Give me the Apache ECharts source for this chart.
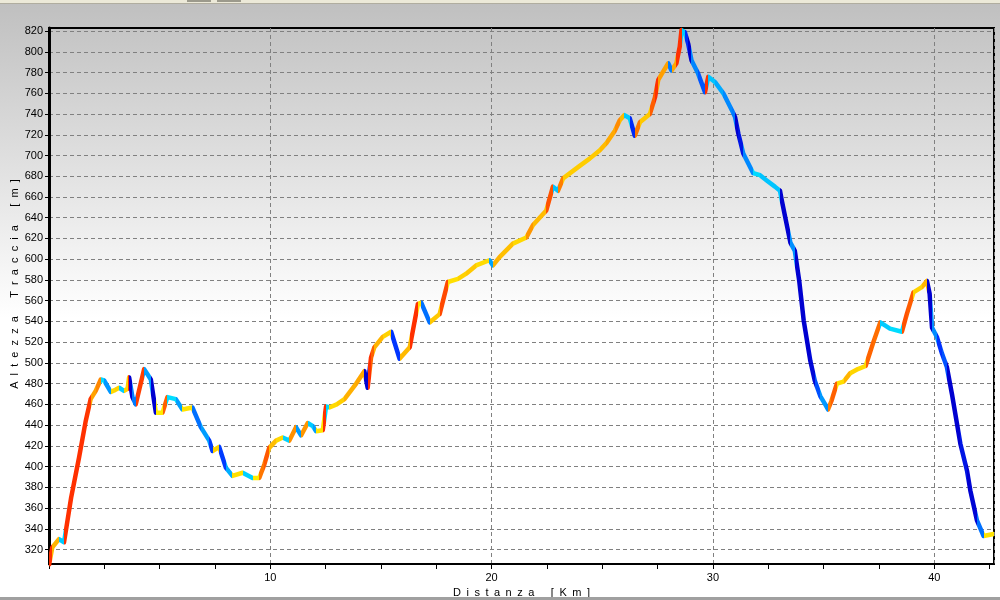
<!DOCTYPE html>
<html><head><meta charset="utf-8">
<script src="https://cdn.jsdelivr.net/npm/echarts@6/dist/echarts.min.js"></script>
<style>html,body{margin:0;padding:0;background:#fff}#c{width:1000px;height:600px}</style>
</head><body><div id="c"></div>
<script>
const distanceKm = [0.00,0.15,0.45,0.68,1.00,1.36,1.66,1.88,2.11,2.34,2.49,2.79,3.00,3.17,3.39,3.55,3.62,3.77,3.92,4.30,4.45,4.60,4.83,5.13,5.35,5.73,6.03,6.48,6.86,7.24,7.39,7.69,7.99,8.29,8.75,9.20,9.50,9.73,9.95,10.26,10.56,10.86,11.16,11.39,11.69,11.92,12.07,12.37,12.52,12.67,13.00,13.35,13.88,14.25,14.40,14.55,14.70,15.08,15.46,15.84,16.30,16.67,16.82,17.20,17.65,18.02,18.48,18.85,19.30,19.90,20.06,20.36,20.96,21.57,21.87,22.47,22.77,23.00,23.23,23.98,24.43,24.89,25.19,25.57,25.79,26.00,26.24,26.47,26.70,27.15,27.38,27.53,27.75,27.98,28.13,28.35,28.50,28.58,28.73,28.88,29.03,29.33,29.64,29.79,30.09,30.47,30.85,31.00,31.15,31.37,31.82,32.13,32.43,32.80,33.03,33.10,33.30,33.50,33.70,33.90,34.10,34.40,34.60,34.85,35.10,35.20,35.35,35.60,35.90,36.20,36.55,36.90,37.25,37.56,38.00,38.54,38.76,39.06,39.44,39.67,39.79,39.90,40.12,40.35,40.57,40.80,41.18,41.48,41.63,41.93,42.23,42.68];
const elevationM = [305,322,330,327,370,409,444,465,473,484,483,472,474,476,473,475,486,467,460,494,489,484,452,452,467,465,455,457,438,425,415,419,399,391,394,389,389,402,418,425,428,425,438,430,442,439,434,435,458,457,460,465,480,492,476,505,515,525,530,504,515,557,558,539,547,578,581,586,594,599,594,602,615,621,633,647,670,666,678,690,697,705,712,724,734,739,736,719,732,740,756,773,781,789,782,789,805,821,819,808,792,779,761,776,771,760,744,737,721,702,683,681,676,670,666,658,637,616,608,579,541,502,483,468,459,455,463,480,482,490,494,497,520,539,533,530,547,568,573,579,567,534,525,509,496,470,422,396,377,348,333,335];
const yTickValues = [320,340,360,380,400,420,440,460,480,500,520,540,560,580,600,620,640,660,680,700,720,740,760,780,800,820];
const xTickValues = [0,2.5,5,7.5,10,12.5,15,17.5,20,22.5,25,27.5,30,32.5,35,37.5,40,42.5];
const xLabelValues = [10,20,30,40];
const xAxisTitle = 'D\u2002i\u2002s\u2002t\u2002a\u2002n\u2002z\u2002a\u2002\u2002\u2002[\u2002K\u2002m\u2002]';
const yAxisTitle = 'A  l  t  e  z  z  a      T  r  a  c  c  i  a      [  m  ]';

// slope (%) -> colour, jet-like scale
const slopeStops = [[-10,[0,0,208]],[-7,[0,48,255]],[-4,[0,144,255]],[-1.5,[0,200,255]],[-0.01,[0,232,255]],[0,[255,236,0]],[1.5,[255,206,0]],[4,[255,150,0]],[7,[255,92,0]],[10,[255,48,0]]];
function slopeColor(s){
  if (s <= slopeStops[0][0]) return 'rgb(' + slopeStops[0][1].join(',') + ')';
  for (let i = 1; i < slopeStops.length; i++) {
    if (s <= slopeStops[i][0]) {
      const a = slopeStops[i-1], b = slopeStops[i];
      const t = (s - a[0]) / (b[0] - a[0]);
      const c = a[1].map((v, k) => Math.round(v + (b[1][k] - v) * t));
      return 'rgb(' + c.join(',') + ')';
    }
  }
  return 'rgb(' + slopeStops[slopeStops.length-1][1].join(',') + ')';
}
const pieces = [];
for (let i = 0; i < distanceKm.length - 1; i++) {
  const s = (elevationM[i+1] - elevationM[i]) / ((distanceKm[i+1] - distanceKm[i]) * 1000) * 100;
  const p = { gte: distanceKm[i], color: slopeColor(s) };
  if (i < distanceKm.length - 2) p.lt = distanceKm[i+1]; else p.lte = distanceKm[i+1];
  pieces.push(p);
}

const font = 'Liberation Sans, Arial, sans-serif';
const chart = echarts.init(document.getElementById('c'), null, { renderer: 'canvas' });
chart.setOption({
  backgroundColor: new echarts.graphic.LinearGradient(0, 0, 0, 1, [
    { offset: 0, color: '#bfbfbf' }, { offset: 0.53, color: '#ffffff' }, { offset: 1, color: '#ffffff' }
  ]),
  animation: false,
  graphic: [
    { type: 'rect', shape: { x: 0, y: 0, width: 1000, height: 3 }, style: { fill: '#ece9d8' }, z: 100 },
    { type: 'rect', shape: { x: 0, y: 3, width: 1000, height: 1 }, style: { fill: '#b0ad9f' }, z: 100 },
    { type: 'rect', shape: { x: 187, y: 0, width: 24, height: 2 }, style: { fill: '#9c9a8c' }, z: 101 },
    { type: 'rect', shape: { x: 217, y: 0, width: 24, height: 2 }, style: { fill: '#9c9a8c' }, z: 101 },
    { type: 'rect', shape: { x: 0, y: 597, width: 1000, height: 3 }, style: { fill: '#a0a0a0' }, z: 100 }
  ],
  grid: { left: 49, right: 6, top: 28, bottom: 36, outerBoundsMode: 'none', containLabel: false, show: true, borderColor: '#000', borderWidth: 2, backgroundColor: 'transparent' },
  visualMap: { type: 'piecewise', show: false, dimension: 0, seriesIndex: 0, pieces: pieces },
  xAxis: [
    {
      type: 'value', min: 0, max: 42.7, position: 'bottom',
      name: xAxisTitle, nameLocation: 'middle', nameGap: 23, nameMoveOverlap: false,
      nameTextStyle: { fontFamily: font, fontSize: 11, color: '#000' },
      axisLine: { show: true, lineStyle: { color: '#000', width: 2 } },
      axisTick: { show: true, customValues: xTickValues, length: 5, lineStyle: { color: '#000' } },
      axisLabel: { customValues: xLabelValues, fontFamily: font, fontSize: 11, color: '#000', margin: 8 },
      splitLine: { show: false }
    },
    {
      type: 'value', min: 0, max: 42.7, interval: 10, position: 'top',
      axisLine: { show: false }, axisTick: { show: false }, axisLabel: { show: false },
      splitLine: { show: true, lineStyle: { color: '#808080', type: [4, 3], width: 1 } }
    }
  ],
  yAxis: {
    type: 'value', min: 306, max: 823,
    name: yAxisTitle, nameLocation: 'middle', nameGap: 29, nameMoveOverlap: false,
    nameTextStyle: { fontFamily: font, fontSize: 11, color: '#000', padding: [0, 0, 0, 24] },
    axisLine: { show: true, lineStyle: { color: '#000', width: 3 } },
    axisTick: { show: true, customValues: yTickValues, length: 4, lineStyle: { color: '#000' } },
    axisLabel: { customValues: yTickValues, fontFamily: font, fontSize: 11, color: '#000', margin: 6 },
    splitLine: { show: true, lineStyle: { color: '#808080', type: [4, 3], width: 1 } }
  },
  series: [{
    type: 'line', xAxisIndex: 0,
    data: distanceKm.map((d, i) => [d, elevationM[i]]),
    showSymbol: false, symbol: 'none',
    lineStyle: { width: 4.5, cap: 'round', join: 'round' },
    z: 5
  }]
});
</script></body></html>
